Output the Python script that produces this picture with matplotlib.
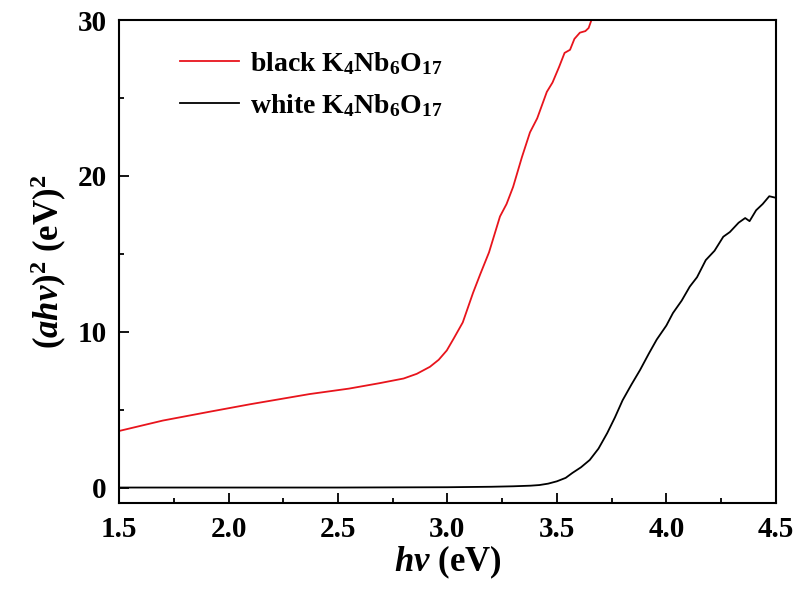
#(ahv)^2 vs hv plot for black and white K4Nb6O17
import matplotlib
matplotlib.use('Agg')
import matplotlib.pyplot as plt
from matplotlib.ticker import MultipleLocator

# values
black_x = [1.5, 1.7, 1.915, 2.1, 2.37, 2.55, 2.69, 2.8, 2.86, 2.92, 2.96, 2.997, 3.03,
           3.07, 3.117, 3.15, 3.19, 3.24, 3.27, 3.30, 3.34, 3.377, 3.41, 3.454,
           3.48, 3.51, 3.535, 3.56, 3.58, 3.605, 3.63, 3.645, 3.66]
black_y = [3.63, 4.3, 4.87, 5.35, 6.0, 6.35, 6.7, 7.0, 7.3, 7.75, 8.2, 8.8, 9.6,
           10.6, 12.5, 13.7, 15.1, 17.4, 18.2, 19.3, 21.2, 22.8, 23.7, 25.4,
           26.0, 27.0, 27.9, 28.1, 28.8, 29.2, 29.3, 29.5, 30.1]

white_x = [1.5, 2.5, 3.0, 3.2, 3.3, 3.38, 3.42, 3.46, 3.5, 3.54, 3.57, 3.61, 3.65,
           3.69, 3.73, 3.765, 3.80, 3.84, 3.88, 3.92, 3.956, 4.0, 4.03, 4.07,
           4.107, 4.14, 4.18, 4.22, 4.26, 4.29, 4.33, 4.36, 4.38, 4.41, 4.44,
           4.47, 4.5]
white_y = [0.0, 0.0, 0.02, 0.05, 0.08, 0.12, 0.16, 0.25, 0.4, 0.62, 0.93, 1.3, 1.77,
           2.5, 3.5, 4.5, 5.6, 6.6, 7.55, 8.6, 9.5, 10.4, 11.2, 12.0,
           12.9, 13.5, 14.6, 15.2, 16.1, 16.4, 17.0, 17.3, 17.1, 17.8, 18.2,
           18.7, 18.6]

xticks = [1.5, 2.0, 2.5, 3.0, 3.5, 4.0, 4.5]
xticklabels = ['1.5', '2.0', '2.5', '3.0', '3.5', '4.0', '4.5']
yticks = [0, 10, 20, 30]
yticklabels = ['0', '10', '20', '30']

plt.rcParams['font.family'] = 'Liberation Serif'
plt.rcParams['font.weight'] = 'bold'
plt.rcParams['axes.labelweight'] = 'bold'
plt.rcParams['mathtext.fontset'] = 'custom'
plt.rcParams['mathtext.rm'] = 'Liberation Serif:bold'
plt.rcParams['mathtext.bf'] = 'Liberation Serif:bold'
plt.rcParams['mathtext.it'] = 'Liberation Serif:bold:italic'
plt.rcParams['mathtext.default'] = 'bf'

fig = plt.figure(figsize=(7.99, 5.94), dpi=100)
ax = fig.add_axes([0.149, 0.153, 0.822, 0.813])

ax.plot(black_x, black_y, color='#e8141c', lw=1.3, label='black K$_4$Nb$_6$O$_{17}$')
ax.plot(white_x, white_y, color='black', lw=1.3, label='white K$_4$Nb$_6$O$_{17}$')

ax.set_xlim(1.5, 4.5)
ax.set_ylim(-1, 30)
ax.xaxis.set_minor_locator(MultipleLocator(0.25))
ax.yaxis.set_minor_locator(MultipleLocator(5))
ax.tick_params(which='major', direction='in', length=7, width=1.3, pad=9)
ax.tick_params(which='minor', direction='in', length=3.5, width=1.3)
ax.set_xticks(xticks, labels=xticklabels, fontsize=21, fontweight='bold')
ax.set_yticks(yticks, labels=yticklabels, fontsize=21, fontweight='bold')
for s in ax.spines.values():
    s.set_linewidth(1.5)

ax.set_xlabel(r'$\mathit{hv}$ (eV)', fontsize=25, fontweight='bold', labelpad=1)
ax.set_ylabel(r'($\mathit{ahv}$)$^2$ (eV)$^2$', fontsize=25, fontweight='bold', labelpad=6)

ax.legend(loc='upper left', bbox_to_anchor=(0.055, 0.99), frameon=False, fontsize=20,
          handlelength=2.1, handletextpad=0.4, labelspacing=0.55)

plt.savefig('out.png', dpi=100)
